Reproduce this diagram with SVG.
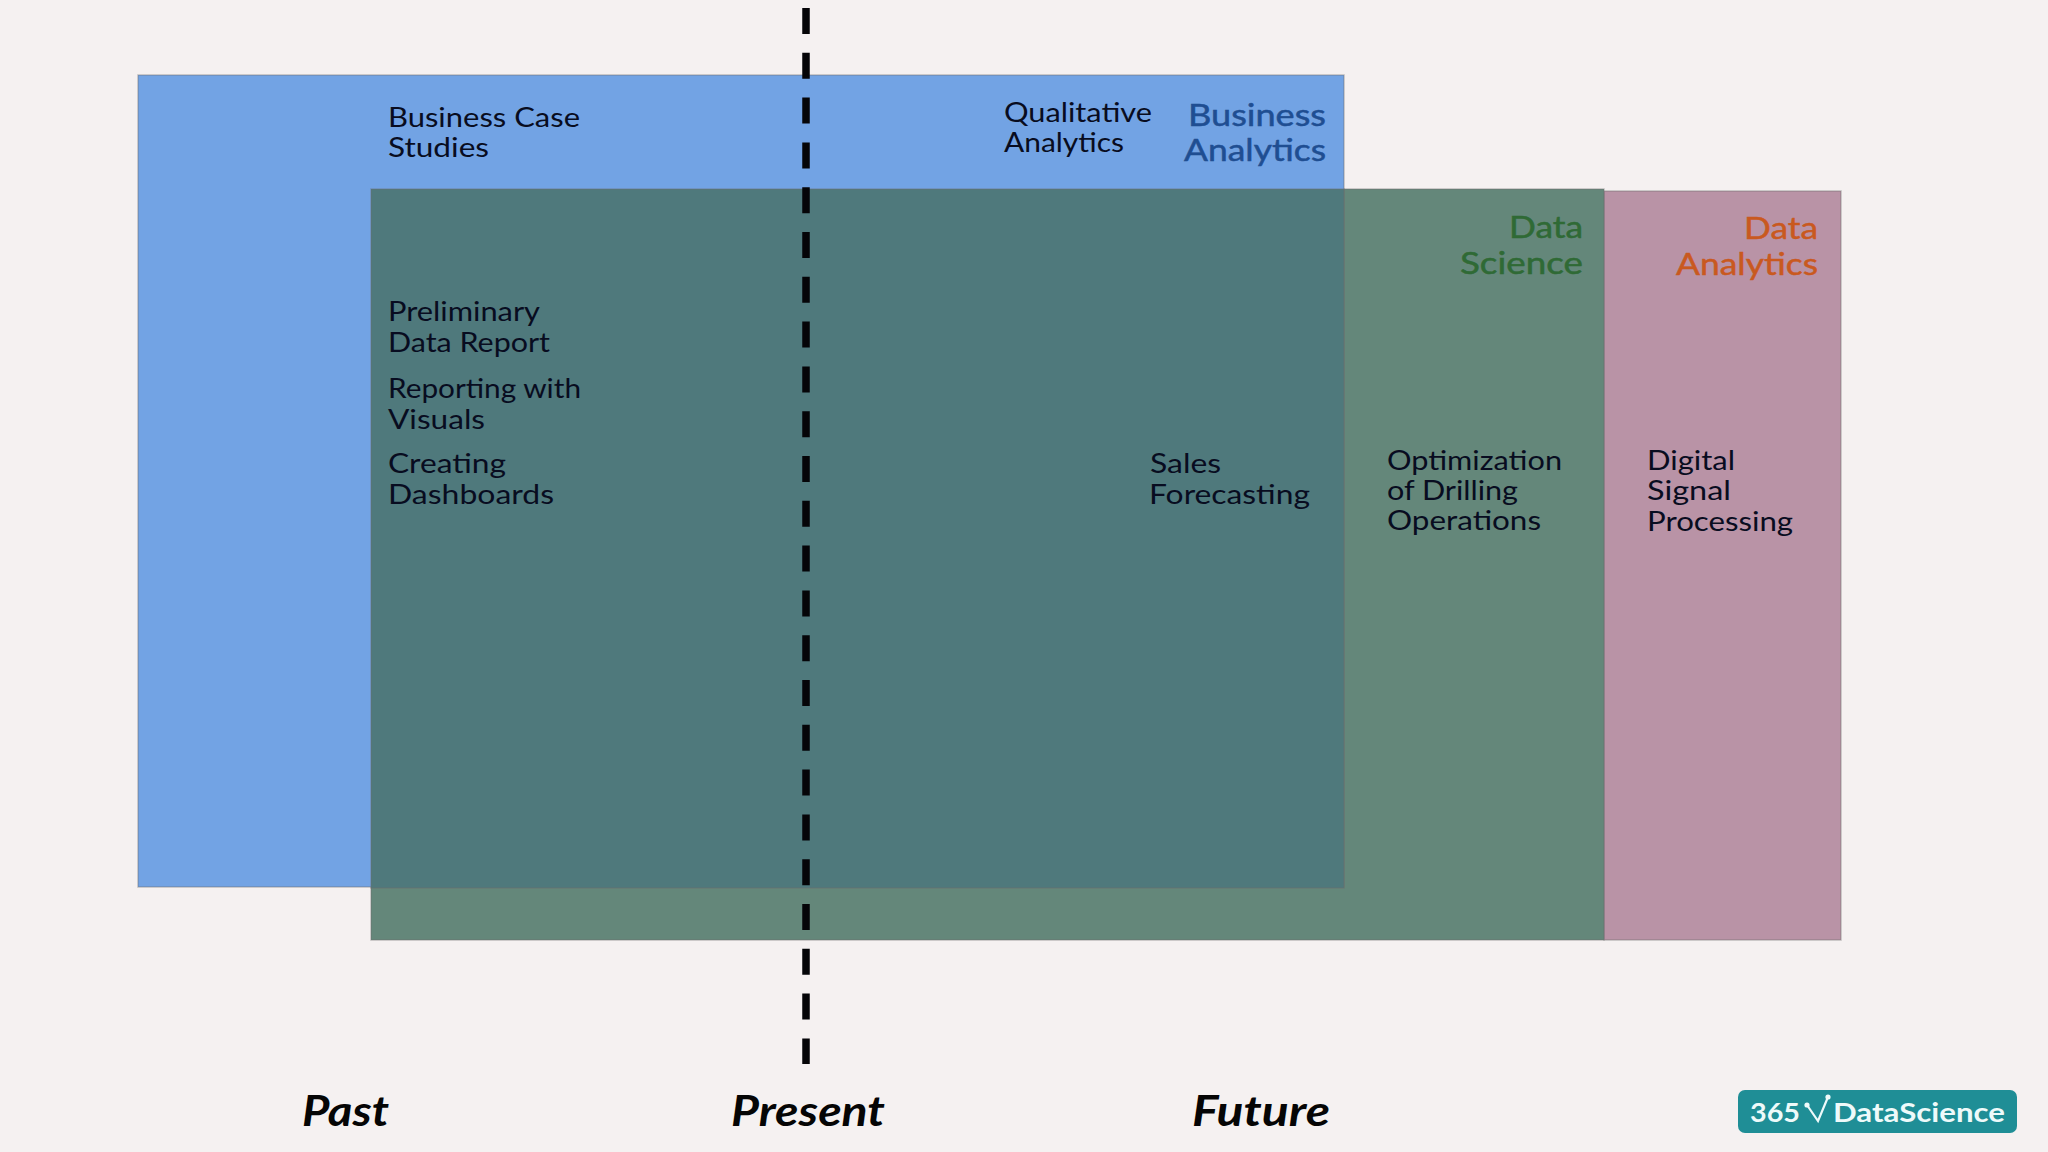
<svg xmlns="http://www.w3.org/2000/svg" width="2048" height="1152" viewBox="0 0 2048 1152">
<style>
text{font-family:"Lato","Open Sans","Liberation Sans",sans-serif}
.t{font-size:27px;fill:#080c20;font-weight:400}
.h{font-size:31px;font-weight:400;stroke-width:.5px}
.ax{font-size:42px;font-style:italic;font-weight:700;fill:#050505}
.lg{font-size:27px;fill:#eefafa;font-weight:700}
.edge{stroke:#6b6b6b;stroke-opacity:.4;stroke-width:1.5}
</style>
<rect width="2048" height="1152" fill="#f5f1f1"/>
<g id="data-analytics">
<rect class="edge" x="1604" y="191" width="237" height="749" fill="#b993a6"/>
<text class="h" x="1744" y="239" textLength="74" lengthAdjust="spacingAndGlyphs" fill="#c9591f" stroke="#c9591f">Data</text>
<text class="h" x="1676" y="275" textLength="142" lengthAdjust="spacingAndGlyphs" fill="#c9591f" stroke="#c9591f">Analytics</text>
<text class="t" x="1647" y="470" textLength="88" lengthAdjust="spacingAndGlyphs">Digital</text>
<text class="t" x="1647" y="500" textLength="84" lengthAdjust="spacingAndGlyphs">Signal</text>
<text class="t" x="1647" y="531" textLength="146" lengthAdjust="spacingAndGlyphs">Processing</text>
</g>
<g id="data-science">
<rect class="edge" x="371" y="189" width="1233" height="751" fill="#64877a"/>
<text class="h" x="1509" y="238" textLength="74" lengthAdjust="spacingAndGlyphs" fill="#2f6a35" stroke="#2f6a35">Data</text>
<text class="h" x="1460" y="274" textLength="123" lengthAdjust="spacingAndGlyphs" fill="#2f6a35" stroke="#2f6a35">Science</text>
<text class="t" x="1387" y="470" textLength="175" lengthAdjust="spacingAndGlyphs">Optimization</text>
<text class="t" x="1387" y="500" textLength="131" lengthAdjust="spacingAndGlyphs">of Drilling</text>
<text class="t" x="1387" y="530" textLength="154" lengthAdjust="spacingAndGlyphs">Operations</text>
</g>
<g id="business-analytics">
<rect class="edge" x="138" y="75" width="1206" height="812" fill="#72a3e4"/>
<rect class="edge" x="371" y="189" width="973" height="699" fill="#4f797c"/>
<text class="h" x="1188" y="126" textLength="138" lengthAdjust="spacingAndGlyphs" fill="#1f4e92" stroke="#1f4e92">Business</text>
<text class="h" x="1184" y="161" textLength="142" lengthAdjust="spacingAndGlyphs" fill="#1f4e92" stroke="#1f4e92">Analytics</text>
<text class="t" x="388" y="127" textLength="192" lengthAdjust="spacingAndGlyphs">Business Case</text>
<text class="t" x="388" y="157" textLength="101" lengthAdjust="spacingAndGlyphs">Studies</text>
<text class="t" x="1004" y="122" textLength="148" lengthAdjust="spacingAndGlyphs">Qualitative</text>
<text class="t" x="1004" y="152" textLength="120" lengthAdjust="spacingAndGlyphs">Analytics</text>
<text class="t" x="388" y="321" textLength="152" lengthAdjust="spacingAndGlyphs">Preliminary</text>
<text class="t" x="388" y="352" textLength="162" lengthAdjust="spacingAndGlyphs">Data Report</text>
<text class="t" x="388" y="398" textLength="193" lengthAdjust="spacingAndGlyphs">Reporting with</text>
<text class="t" x="388" y="429" textLength="97" lengthAdjust="spacingAndGlyphs">Visuals</text>
<text class="t" x="388" y="473" textLength="118" lengthAdjust="spacingAndGlyphs">Creating</text>
<text class="t" x="388" y="504" textLength="166" lengthAdjust="spacingAndGlyphs">Dashboards</text>
<text class="t" x="1150" y="473" textLength="71" lengthAdjust="spacingAndGlyphs">Sales</text>
<text class="t" x="1149" y="504" textLength="161" lengthAdjust="spacingAndGlyphs">Forecasting</text>
</g>
<g id="connectors">
<line x1="806" y1="8" x2="806" y2="1064" stroke="#050508" stroke-width="7.5" stroke-dasharray="26 18.8"/>
</g>
<g id="axis">
<text class="ax" x="302" y="1126" textLength="87" lengthAdjust="spacingAndGlyphs">Past</text>
<text class="ax" x="731" y="1126" textLength="154" lengthAdjust="spacingAndGlyphs">Present</text>
<text class="ax" x="1192" y="1126" textLength="138" lengthAdjust="spacingAndGlyphs">Future</text>
</g>
<g id="logo">
<rect x="1738" y="1090" width="279" height="43" rx="7" fill="#1f8e96"/>
<text class="lg" x="1750" y="1122" textLength="50" lengthAdjust="spacingAndGlyphs">365</text>
<path d="M1807 1105L1818 1121L1828 1097" fill="none" stroke="#eefafa" stroke-width="2.2"/>
<circle cx="1807" cy="1105" r="2.6" fill="#eefafa"/>
<circle cx="1828" cy="1097" r="2.6" fill="#eefafa"/>
<text class="lg" x="1833" y="1122" textLength="172" lengthAdjust="spacingAndGlyphs">DataScience</text>
</g>
</svg>
